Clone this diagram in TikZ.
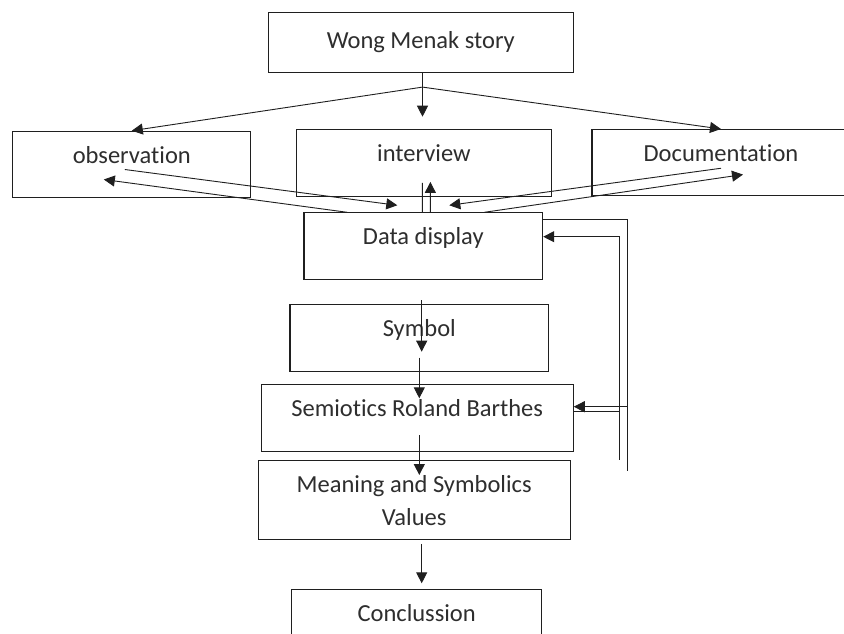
\documentclass[tikz,border=0pt]{standalone}
\usepackage{fontspec}
\setmainfont{Carlito}[Ligatures=NoCommon]
\usetikzlibrary{arrows.meta,calc}
\definecolor{figink}{gray}{0.12}
\definecolor{figtext}{gray}{0.18}

\begin{document}
\begin{tikzpicture}[
    x=1pt, y=-1pt,
    font=\fontsize{24.5}{33}\selectfont,
    box/.style={rectangle, draw=figink, line width=1.1pt, anchor=north, align=center,
        inner sep=0pt, text=figtext, text height=32pt, text depth=34.5pt},
    link/.style={draw=figink, line width=0.9pt},
    arrow/.style={link, -{Triangle[length=11pt, width=11pt]}}
]
    \path[use as bounding box, fill=white] (0,0) rectangle (844,633);

    \node[box, minimum width=305pt, text height=36pt, text depth=24pt] (story) at (420.8,11.7) {Wong Menak story};
    \node[box, minimum width=238pt] (obs) at (131.8,130.7) {observation};
    \node[box, minimum width=255.7pt] (interview) at (423.9,129.3) {interview};
    \node[box, minimum width=258pt, text depth=34pt] (docu) at (721,129) {Documentation};
    \node[box, minimum width=238.7pt, text depth=35pt] (display) at (423.3,212.3) {Data display};
    \node[box, minimum width=258.7pt] (symbol) at (419.3,304) {Symbol};
    \node[box, minimum width=312pt] (semiotics) at (417.2,384.3) {Semiotics Roland Barthes};
    \node[box, minimum width=311.7pt, text height=65pt, text depth=14.3pt] (meaning) at (414.2,460) {Meaning and Symbolics\\Values};
    \node[box, minimum width=250pt] (concl) at (416.7,589.3) {Conclussion};

    \coordinate (split) at ($(story.south)+(1.7,14.3)$);
    \coordinate (fbout) at ($(semiotics.south east)+(53.4,19.3)$);
    \coordinate (fbin) at ($(semiotics.south east)+(46,7.6)$);
    \coordinate (dispin) at ($(display.north east)+(0,24.4)$);
    \coordinate (semin) at ($(semiotics.north east)+(0,22.4)$);
    \coordinate (semline) at ($(semiotics.north east)+(0,26.7)$);

    \draw[arrow] ($(story.south)+(1.7,0)$) -- ($(interview.north)+(-1.4,-12.6)$);
    \draw[arrow] (split) -- (obs.north);
    \draw[arrow] (split) -- (docu.north);

    \draw[arrow] ($(obs.center)+(-7,5)$) -- ($(display.north)+(-26,-7)$);
    \draw[arrow] ($(display.north)+(-76,0)$) -- ($(obs.center)+(-28,15)$);
    \draw[link] ($(display.north)+(-1,0)$) -- ($(interview.south)+(-1.5,-14)$);
    \draw[arrow] ($(display.north)+(7,0)$) -- ($(interview.south)+(6.5,-15)$);
    \draw[arrow] ($(docu.center)+(0,5.7)$) -- ($(display.north)+(26,-7)$);
    \draw[arrow] ($(display.north)+(61,0)$) -- ($(docu.center)+(22,12)$);

    \draw[link] ($(display.north east)+(0,7)$) -| (fbout);
    \draw[arrow] (fbin) |- (dispin);
    \draw[arrow] (semin -| fbout) -- (semin);
    \draw[link] (semline -| fbin) -- (semline);

    \draw[arrow] ($(display.south)+(-1.6,20)$) -- ($(symbol.north)+(2.4,47.7)$);
    \draw[arrow] ($(symbol.south)+(0,-14)$) -- ($(semiotics.north)+(2.1,14)$);
    \draw[arrow] ($(semiotics.south)+(2.1,-16.7)$) -- ($(meaning.north)+(5.1,15)$);
    \draw[arrow] ($(meaning.south)+(7.5,3.4)$) -- ($(concl.north)+(5,-6)$);
\end{tikzpicture}
\end{document}
